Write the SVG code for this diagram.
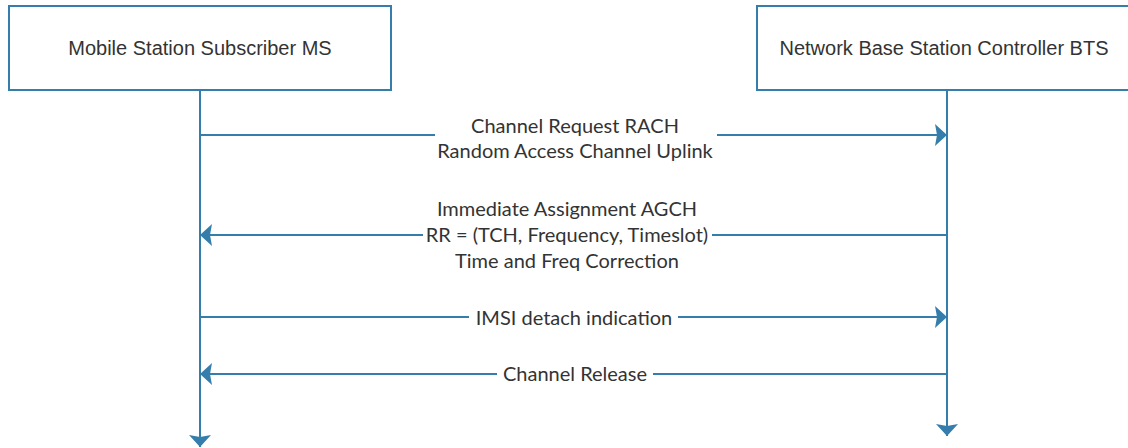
<svg xmlns="http://www.w3.org/2000/svg" width="1128" height="448" viewBox="0 0 1128 448">
  <style>
    .box { fill: #ffffff; stroke: #357eab; stroke-width: 2; }
    .life { fill: none; stroke: #357eab; stroke-width: 2; }
    .msg { fill: none; stroke: #357eab; stroke-width: 2; }
    .lblbg { fill: #ffffff; stroke: none; }
    .title { font-family: "Liberation Sans", Arial, sans-serif; font-size: 20px; fill: #333333; text-anchor: middle; }
    .lbl { font-family: Lato, "Open Sans", sans-serif; font-size: 20px; fill: #333333; text-anchor: middle; }
  </style>
  <defs>
    <marker id="head" viewBox="-13 -12 14 24" refX="0" refY="0" markerWidth="14" markerHeight="24" markerUnits="userSpaceOnUse" orient="auto">
      <path d="M0,0 L-12,-11 L-10,0 L-12,11 Z" fill="#357eab"/>
    </marker>
  </defs>

  <!-- participants -->
  <g id="ms">
    <rect class="box" x="9" y="6" width="382" height="84"/>
    <text class="title" x="200" y="55">Mobile Station Subscriber MS</text>
  </g>
  <g id="bts">
    <rect class="box" x="757" y="6" width="382" height="84"/>
    <text class="title" x="944" y="55">Network Base Station Controller BTS</text>
  </g>

  <!-- lifelines and messages -->
  <g id="connectors">
    <path class="life" d="M200,90 V447" marker-end="url(#head)"/>
    <path class="life" d="M947,90 V436" marker-end="url(#head)"/>

    <path class="msg" d="M200,135 H947" marker-end="url(#head)"/>
    <rect class="lblbg" x="435" y="113" width="282" height="50"/>
    <text class="lbl" x="575" y="133">Channel Request RACH</text>
    <text class="lbl" x="575" y="158">Random Access Channel Uplink</text>

    <path class="msg" d="M947,235 H200" marker-end="url(#head)"/>
    <rect class="lblbg" x="423" y="198" width="289" height="77"/>
    <text class="lbl" x="567" y="216">Immediate Assignment AGCH</text>
    <text class="lbl" x="567" y="242">RR = (TCH, Frequency, Timeslot)</text>
    <text class="lbl" x="567" y="268">Time and Freq Correction</text>

    <path class="msg" d="M200,317 H947" marker-end="url(#head)"/>
    <rect class="lblbg" x="469" y="304" width="209" height="27"/>
    <text class="lbl" x="574" y="325">IMSI detach indication</text>

    <path class="msg" d="M947,374 H200" marker-end="url(#head)"/>
    <rect class="lblbg" x="497" y="361" width="156" height="27"/>
    <text class="lbl" x="575" y="381">Channel Release</text>
  </g>
</svg>
